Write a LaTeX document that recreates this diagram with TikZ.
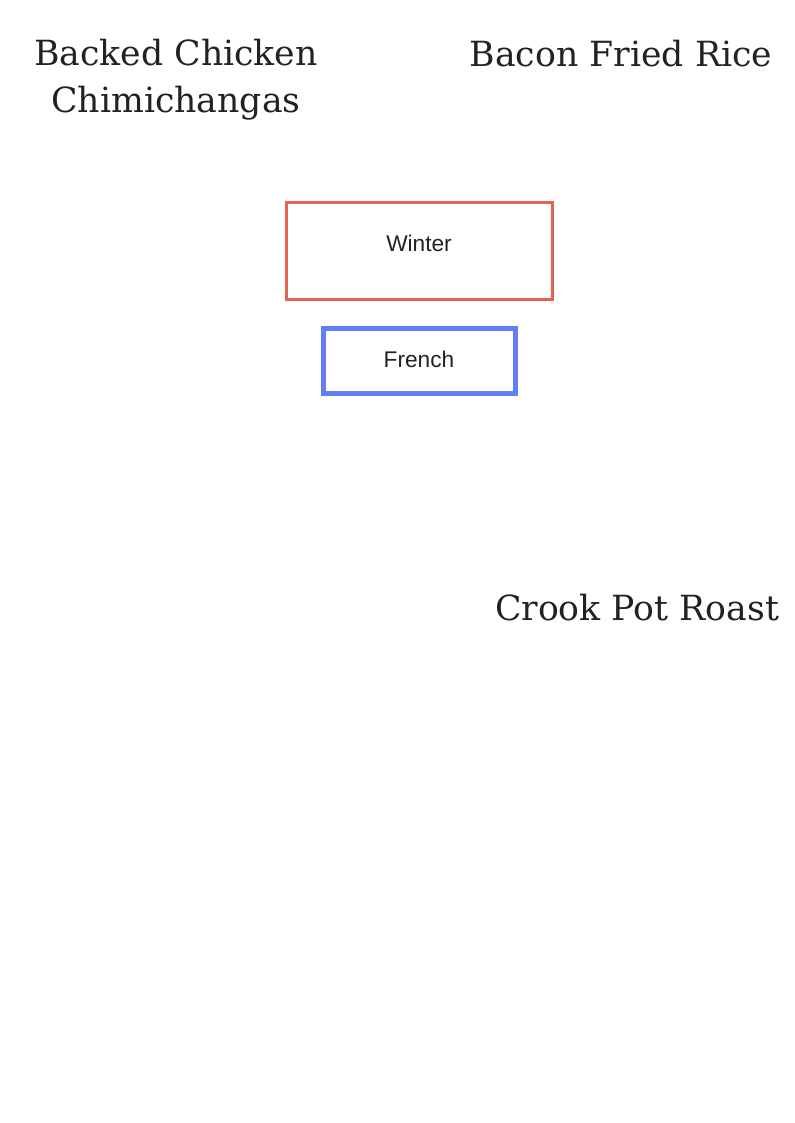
\documentclass[tikz,border=0pt]{standalone}
\usepackage{fontspec}
\setmainfont{DejaVu Serif}
\newfontfamily\boxfont{Liberation Sans}
\definecolor{winterred}{RGB}{228,98,80}
\definecolor{frenchblue}{RGB}{97,125,247}
\definecolor{inkgray}{RGB}{34,34,34}
\tikzset{every picture/.style={line width=0.75pt}}
\tikzset{
  dishtitle/.style={anchor=base,inner sep=0pt,text=inkgray,font=\fontsize{26}{31}\selectfont},
  boxlabel/.style={anchor=base,inner sep=0pt,text=inkgray,font=\boxfont\fontsize{17}{20}\selectfont}
}

\begin{document}
\begin{tikzpicture}[x=0.75pt,y=0.75pt,yscale=-1,xscale=1]
\path[use as bounding box] (0,0) rectangle (794,1123); %set diagram page of 794 x 1123

%Shape: Rectangle [id:winterbox]
\draw [color=winterred, line width=2.25pt] (286.5,202.5) rectangle (552,299) ;
%Shape: Rectangle [id:frenchbox]
\draw [color=frenchblue, line width=3.75pt] (323,328) rectangle (515,393) ;

% Text Node
\draw (176,66) node [dishtitle] (chicken) {Backed Chicken};
% Text Node
\draw (176,113) node [dishtitle] (chimi) {Chimichangas};
% Text Node
\draw (621,67) node [dishtitle] (rice) {Bacon Fried Rice};
% Text Node
\draw (637,620) node [dishtitle] (roast) {Crook Pot Roast};
% Text Node
\draw (419,251) node [boxlabel] (winter) {Winter};
% Text Node
\draw (419,367) node [boxlabel] (french) {French};

\end{tikzpicture}
\end{document}
